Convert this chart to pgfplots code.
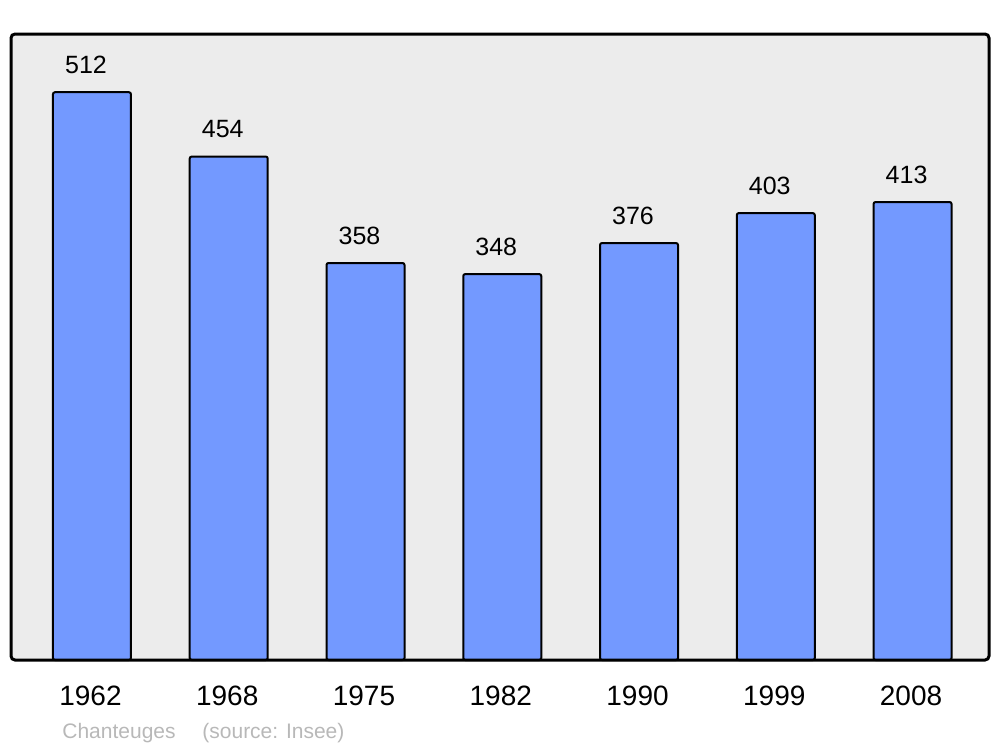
\documentclass[border=0pt]{standalone}
\usepackage{pgfplots}
\pgfplotsset{compat=1.18}
\usepackage{fontspec}
\setmainfont{Liberation Sans}
\definecolor{barblue}{HTML}{7399FF}
\definecolor{bggray}{HTML}{ECECEC}
\definecolor{srcgray}{HTML}{B8B8B8}
\begin{document}
\begin{tikzpicture}
\begin{axis}[
  name=ax,
  scale only axis,
  width=489pt, height=313pt,
  xmin=-0.592, xmax=6.559,
  ymin=0, ymax=564.5,
  axis line style={draw=none},
  axis background/.style={fill=bggray},
  ytick=\empty,
  xtick={0,1,2,3,4,5,6},
  xticklabels={1962,1968,1975,1982,1990,1999,2008},
  major tick length=0pt,
  xticklabel style={font=\fontsize{14pt}{16pt}\selectfont, anchor=base, inner sep=0pt, yshift=-22.5pt, xshift=-0.75pt},
  /pgf/number format/assume math mode=true,
  ybar, bar width=39pt, bar shift=0pt,
  nodes near coords,
  every node near coord/.append style={font=\fontsize{12.5pt}{14pt}\selectfont, anchor=base, inner sep=0pt, yshift=9.5pt, xshift=-3pt, black},
  clip=false,
]
\addplot[fill=barblue, draw=black, line width=1pt, rounded corners=1pt] coordinates {
  (0,512) (1,454) (2,358) (3,348) (4,376) (5,403) (6,413)
};
\draw[line width=1.5pt, rounded corners=2pt] (rel axis cs:0,0) rectangle (rel axis cs:1,1);
\node[anchor=base west, inner sep=0pt, text=srcgray, font=\fontsize{10.5pt}{12pt}\selectfont] at ([shift={(25.5pt,-39pt)}]rel axis cs:0,0) {Chanteuges};
\node[anchor=base west, inner sep=0pt, text=srcgray, font=\fontsize{10.5pt}{12pt}\selectfont] at ([shift={(95.5pt,-39pt)}]rel axis cs:0,0) {(source: Insee)};
\end{axis}
\pgfresetboundingbox
\path ([shift={(-5.5pt,-43.5pt)}]ax.south west) rectangle ([shift={(5.5pt,17pt)}]ax.north east);
\end{tikzpicture}
\end{document}
